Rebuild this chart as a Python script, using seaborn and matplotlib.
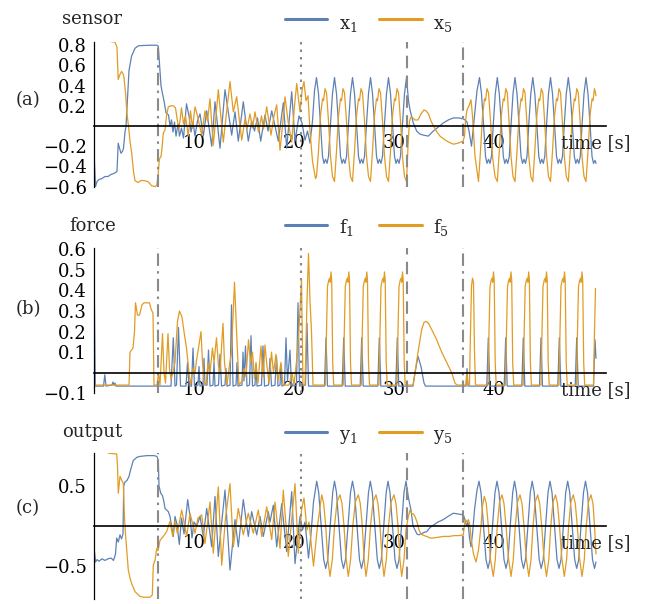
import numpy as np
import pandas as pd
import matplotlib
matplotlib.use("Agg")
import matplotlib.pyplot as plt
from matplotlib.lines import Line2D
from matplotlib.ticker import FixedLocator, MultipleLocator
import seaborn as sns

BLUE = "#5E81B5"
ORANGE = "#E19C24"

# ---------------- data (t [s], value) ----------------
x1_pts = [
    (0.0,-0.25),(0.15,-0.6),(0.3,-0.55),(0.5,-0.53),(0.8,-0.52),(1.1,-0.5),(1.4,-0.5),(1.7,-0.48),(2.0,-0.47),
    (2.3,-0.45),(2.42,-0.17),(2.55,-0.22),(2.7,-0.27),(2.85,-0.25),(2.95,-0.22),(3.1,-0.06),(3.2,0.0),(3.33,0.24),
    (3.5,0.55),(3.75,0.69),(4.1,0.77),(4.45,0.795),(5.5,0.8),(6.3,0.8),(6.43,0.79),(6.55,0.62),(6.7,0.4),(6.85,0.32),
    (7.0,0.25),(7.2,0.13),(7.45,0.11),(7.6,0.0),(7.75,0.06),(7.9,-0.06),(8.05,0.04),(8.2,-0.1),(8.4,0.02),(8.55,-0.1),
    (8.75,-0.02),(8.95,-0.12),(9.25,0.22),(9.5,0.1),(9.7,-0.06),(9.9,0.04),(10.1,-0.1),
    (10.35,0.05),(10.6,0.12),(10.93,-0.1),(11.27,0.15),(11.77,-0.2),(12.1,0.24),(12.6,-0.22),(13.1,0.36),(13.77,-0.09),
    (14.1,0.14),(14.43,-0.15),(14.93,0.24),(15.43,-0.15),(15.77,0.05),(16.05,-0.05),(16.35,0.08),(16.67,-0.15),
    (17.1,0.11),(17.4,-0.05),(17.77,0.15),(18.43,-0.15),(18.93,0.23),(19.27,-0.22),(19.77,0.34),(20.1,-0.15),
    (20.5,0.1),(20.8,0.03),(21.1,-0.14),(21.35,-0.05),(21.6,-0.17),(21.85,0.05),(22.05,0.35),(22.25,0.48),
    (22.45,0.32),(22.65,0.02),(22.85,-0.3),(23.0,-0.37),(23.15,-0.33),(23.3,-0.37),(23.45,-0.3),(23.65,0.02),(23.85,0.32),(24.05,0.48),
    (24.25,0.32),(24.45,0.02),(24.65,-0.3),(24.8,-0.37),(24.95,-0.33),(25.1,-0.37),(25.25,-0.3),(25.45,0.02),(25.65,0.32),(25.85,0.48),
    (26.05,0.32),(26.25,0.02),(26.45,-0.3),(26.6,-0.37),(26.75,-0.33),(26.9,-0.37),(27.05,-0.3),(27.25,0.02),(27.45,0.32),(27.65,0.48),
    (27.85,0.32),(28.05,0.02),(28.25,-0.3),(28.4,-0.37),(28.55,-0.33),(28.7,-0.37),(28.85,-0.3),(29.05,0.02),(29.25,0.32),(29.45,0.48),
    (29.65,0.32),(29.85,0.02),(30.05,-0.3),(30.2,-0.37),(30.35,-0.33),(30.5,-0.37),(30.65,-0.3),(30.85,0.02),(31.05,0.32),(31.25,0.48),
    (31.45,0.25),(31.6,0.16),(31.93,0.03),(32.27,-0.05),(32.6,-0.08),(32.93,-0.09),(33.43,-0.1),(33.93,-0.05),(34.43,-0.01),
    (34.93,0.03),(35.43,0.06),(35.93,0.08),(36.5,0.08),(36.93,0.07),(37.1,0.06),(37.3,0.04),(37.5,-0.05),(37.75,-0.2),
    (37.9,-0.05),(38.1,0.15),(38.3,0.35),(38.55,0.48),
    (38.75,0.32),(38.95,0.02),(39.15,-0.3),(39.3,-0.37),(39.45,-0.33),(39.6,-0.37),(39.75,-0.3),(39.93,0.02),(40.13,0.32),(40.33,0.48),
    (40.53,0.32),(40.73,0.02),(40.93,-0.3),(41.08,-0.37),(41.23,-0.33),(41.38,-0.37),(41.53,-0.3),(41.71,0.02),(41.9,0.32),(42.1,0.48),
    (42.3,0.32),(42.5,0.02),(42.7,-0.3),(42.85,-0.37),(43.0,-0.33),(43.15,-0.37),(43.3,-0.3),(43.48,0.02),(43.68,0.32),(43.88,0.48),
    (44.08,0.32),(44.28,0.02),(44.48,-0.3),(44.63,-0.37),(44.78,-0.33),(44.93,-0.37),(45.08,-0.3),(45.26,0.02),(45.45,0.32),(45.65,0.48),
    (45.85,0.32),(46.05,0.02),(46.25,-0.3),(46.4,-0.37),(46.55,-0.33),(46.7,-0.37),(46.85,-0.3),(47.03,0.02),(47.23,0.32),(47.43,0.48),
    (47.63,0.32),(47.83,0.02),(48.03,-0.3),(48.18,-0.37),(48.33,-0.33),(48.48,-0.37),(48.63,-0.3),(48.81,0.02),(49.0,0.32),(49.2,0.48),
    (49.4,0.32),(49.6,0.02),(49.8,-0.3),(49.95,-0.37),(50.1,-0.34),(50.2,-0.37),
]

x5_pts = [
    (0.0,1.0),(1.3,1.0),(1.45,0.84),(2.1,0.83),(2.3,0.78),(2.42,0.46),(2.55,0.5),(2.75,0.54),(2.9,0.52),(3.0,0.48),
    (3.15,0.33),(3.3,0.12),(3.45,0.0),(3.6,-0.15),(3.77,-0.27),(3.95,-0.45),(4.1,-0.54),(4.4,-0.56),(4.7,-0.54),
    (4.95,-0.54),(5.4,-0.55),(5.75,-0.59),(6.1,-0.6),(6.27,-0.59),(6.4,-0.5),(6.53,-0.33),(6.7,-0.3),(6.8,-0.22),
    (6.93,-0.07),(7.1,-0.04),(7.25,0.1),(7.43,0.19),(7.7,0.2),(7.93,0.2),(8.15,0.18),(8.33,0.06),(8.5,-0.03),
    (8.75,0.18),(8.95,0.02),(9.15,0.1),(9.43,-0.1),(9.65,0.15),(9.85,-0.02),(10.1,0.19),(10.35,0.1),(10.77,-0.09),
    (11.1,0.15),(11.35,0.05),(11.6,0.27),(11.93,-0.19),(12.2,0.1),(12.43,0.36),(12.93,-0.16),(13.27,0.15),(13.6,0.44),
    (13.93,0.14),(14.27,0.29),(14.77,-0.14),(15.1,0.07),(15.3,-0.03),(15.6,0.12),(15.85,-0.02),(16.1,0.14),(16.45,-0.06),
    (16.75,0.1),(16.95,-0.03),(17.27,0.19),(17.7,-0.09),(18.0,0.1),(18.27,0.21),(18.6,-0.24),(18.85,0.0),(19.1,0.29),
    (19.4,0.05),(19.77,-0.16),(20.05,0.2),(20.27,0.42),(20.6,0.14),(20.83,0.37),(21.0,0.44),(21.2,0.25),(21.4,0.3),
    (21.6,-0.05),(21.85,-0.35),(22.15,-0.52),(22.25,-0.5),
    (22.45,-0.25),(22.65,0.1),(22.85,0.27),(22.95,0.25),(23.1,0.37),(23.25,0.33),(23.45,0.05),(23.65,-0.3),(23.85,-0.5),(24.05,-0.55),
    (24.25,-0.25),(24.45,0.1),(24.65,0.27),(24.75,0.25),(24.9,0.37),(25.05,0.33),(25.25,0.05),(25.45,-0.3),(25.65,-0.5),(25.85,-0.55),
    (26.05,-0.25),(26.25,0.1),(26.45,0.27),(26.55,0.25),(26.7,0.37),(26.85,0.33),(27.05,0.05),(27.25,-0.3),(27.45,-0.5),(27.65,-0.55),
    (27.85,-0.25),(28.05,0.1),(28.25,0.27),(28.35,0.25),(28.5,0.37),(28.65,0.33),(28.85,0.05),(29.05,-0.3),(29.25,-0.5),(29.45,-0.55),
    (29.65,-0.25),(29.85,0.1),(30.05,0.27),(30.15,0.25),(30.3,0.37),(30.45,0.33),(30.65,0.05),(30.85,-0.3),(31.05,-0.5),(31.25,-0.55),
    (31.4,-0.2),(31.55,0.05),(31.7,0.09),(31.9,0.08),(32.1,0.06),(32.4,0.06),(32.7,0.12),(33.0,0.16),(33.2,0.15),
    (33.45,0.12),(33.7,0.05),(33.95,0.0),(34.3,-0.06),(34.6,-0.1),(35.0,-0.13),(35.3,-0.15),(35.7,-0.17),(35.95,-0.18),
    (36.4,-0.17),(36.9,-0.15),(37.05,-0.1),(37.15,0.05),(37.3,0.16),(37.5,0.2),(37.7,0.26),(37.85,0.1),(38.1,-0.3),(38.45,-0.55),
    (38.65,-0.25),(38.85,0.1),(39.05,0.27),(39.15,0.25),(39.3,0.37),(39.45,0.33),(39.65,0.05),(39.85,-0.3),(40.1,-0.5),(40.33,-0.55),
    (40.53,-0.25),(40.73,0.1),(40.93,0.27),(41.03,0.25),(41.18,0.37),(41.33,0.33),(41.5,0.05),(41.7,-0.3),(41.9,-0.5),(42.1,-0.55),
    (42.3,-0.25),(42.5,0.1),(42.7,0.27),(42.8,0.25),(42.95,0.37),(43.1,0.33),(43.28,0.05),(43.48,-0.3),(43.68,-0.5),(43.88,-0.55),
    (44.08,-0.25),(44.28,0.1),(44.48,0.27),(44.58,0.25),(44.73,0.37),(44.88,0.33),(45.06,0.05),(45.26,-0.3),(45.45,-0.5),(45.65,-0.55),
    (45.85,-0.25),(46.05,0.1),(46.25,0.27),(46.35,0.25),(46.5,0.37),(46.65,0.33),(46.83,0.05),(47.03,-0.3),(47.23,-0.5),(47.43,-0.55),
    (47.63,-0.25),(47.83,0.1),(48.03,0.27),(48.13,0.25),(48.28,0.37),(48.43,0.33),(48.61,0.05),(48.8,-0.3),(49.0,-0.5),(49.2,-0.55),
    (49.4,-0.25),(49.6,0.1),(49.8,0.27),(49.9,0.25),(50.05,0.37),(50.2,0.3),
]

f1_pts = [
    (0.0,0.52),(0.05,0.3),(0.12,-0.065),(0.95,-0.065),(1.08,-0.01),(1.2,-0.065),(1.8,-0.06),(1.9,-0.045),(2.0,-0.06),
    (2.1,-0.05),(2.2,-0.065),(7.7,-0.065),(7.93,0.17),(8.1,-0.065),(8.25,-0.06),(8.45,0.22),(8.65,-0.065),(9.2,-0.065),
    (9.35,0.05),(9.5,-0.065),(9.75,-0.065),(9.9,0.12),(10.05,-0.065),(10.4,-0.06),(10.5,0.03),(10.6,-0.065),(10.9,-0.06),
    (11.0,0.07),(11.1,-0.06),(11.3,-0.06),(11.45,0.11),(11.6,-0.065),(11.9,-0.06),(12.0,0.05),(12.1,-0.065),(12.45,-0.06),
    (12.6,0.09),(12.75,-0.065),(13.1,-0.06),(13.2,0.02),(13.3,-0.065),(13.6,-0.06),(13.75,0.33),(13.9,-0.065),(14.2,-0.06),
    (14.3,0.05),(14.4,-0.065),(14.8,-0.06),(14.9,0.1),(15.0,-0.04),(15.15,0.13),(15.3,-0.065),(15.55,-0.06),(15.7,0.18),
    (15.85,-0.065),(16.1,-0.06),(16.2,0.04),(16.3,-0.065),(16.75,-0.06),(16.9,0.13),(17.05,-0.065),(17.45,-0.06),(17.6,0.07),
    (17.75,-0.065),(18.1,-0.06),(18.25,0.08),(18.4,-0.065),(18.6,-0.06),(18.7,0.04),(18.8,-0.065),(19.05,-0.06),(19.2,0.17),
    (19.35,-0.04),(19.6,0.11),(19.75,-0.065),(20.25,-0.06),(20.4,0.34),(20.55,-0.065),(21.15,-0.06),(21.3,0.24),(21.45,-0.065),
    (23.05,-0.065),(23.2,0.17),(23.35,-0.065),(24.82,-0.065),(24.97,0.17),(25.12,-0.065),(26.62,-0.065),(26.77,0.17),
    (26.92,-0.065),(28.38,-0.065),(28.53,0.17),(28.68,-0.065),(30.18,-0.065),(30.33,0.17),(30.48,-0.065),
    (31.9,-0.065),(32.1,0.0),(32.4,0.08),(32.7,0.03),(33.0,-0.05),(33.15,-0.065),(37.2,-0.065),(37.3,0.02),(37.4,-0.065),
    (39.28,-0.065),(39.43,0.17),(39.58,-0.065),(41.02,-0.065),(41.17,0.17),(41.32,-0.065),(42.78,-0.065),(42.93,0.17),
    (43.08,-0.065),(44.55,-0.065),(44.7,0.17),(44.85,-0.065),(46.38,-0.065),(46.53,0.17),(46.68,-0.065),(48.12,-0.065),
    (48.27,0.17),(48.42,-0.065),(49.95,-0.065),(50.1,0.16),(50.2,0.07),
]

f5_pts = [
    (0.0,-0.06),(3.5,-0.06),(3.6,0.1),(3.9,0.12),(4.05,0.2),(4.15,0.34),(4.35,0.28),(4.55,0.28),(4.8,0.33),(5.0,0.34),
    (5.55,0.34),(5.7,0.31),(5.9,0.29),(6.0,-0.06),(6.3,-0.06),(6.45,0.0),(6.6,-0.06),(6.85,0.19),(7.0,0.0),(7.15,-0.05),
    (7.4,0.19),(7.55,0.02),(7.7,-0.03),(7.9,0.0),(8.1,0.05),(8.35,0.25),(8.55,0.3),(8.8,0.27),(9.0,0.2),(9.25,0.12),
    (9.5,0.0),(9.65,-0.06),(9.9,0.02),(10.1,0.0),(10.25,0.06),(10.45,0.12),(10.7,0.2),(10.85,0.05),(11.0,-0.04),(11.2,-0.06),
    (11.4,0.05),(11.6,0.0),(11.85,0.12),(12.0,0.05),(12.25,0.17),(12.45,0.03),(12.6,0.0),(12.9,0.24),(13.05,0.05),(13.3,-0.06),
    (13.5,0.02),(13.75,0.1),(14.05,0.44),(14.3,0.15),(14.5,-0.06),(14.8,-0.04),(15.0,0.02),(15.2,-0.02),(15.45,0.16),
    (15.65,0.05),(15.85,0.1),(16.05,-0.03),(16.2,0.05),(16.4,-0.05),(16.7,0.13),(16.9,-0.02),(17.1,0.135),(17.3,0.03),
    (17.5,-0.05),(17.75,0.1),(17.95,0.0),(18.2,0.09),(18.4,-0.04),(18.7,0.05),(18.9,-0.06),(19.5,-0.06),(19.8,0.0),
    (20.0,-0.06),(20.35,0.1),(20.55,0.26),(20.75,0.45),(20.9,-0.06),(21.1,-0.06),(21.3,0.35),(21.45,0.58),(21.6,0.35),
    (21.75,0.2),(21.9,-0.06),
    (23.15,-0.06),(23.25,0.2),(23.35,0.42),(23.47,0.45),(23.57,0.46),(23.62,0.44),(23.7,0.49),(23.77,0.45),(23.87,0.05),(23.97,-0.06),
    (24.93,-0.06),(25.03,0.2),(25.13,0.42),(25.25,0.45),(25.35,0.46),(25.4,0.44),(25.48,0.49),(25.55,0.45),(25.65,0.05),(25.75,-0.06),
    (26.73,-0.06),(26.83,0.2),(26.93,0.42),(27.05,0.45),(27.15,0.46),(27.2,0.44),(27.28,0.49),(27.35,0.45),(27.45,0.05),(27.55,-0.06),
    (28.5,-0.06),(28.6,0.2),(28.7,0.42),(28.82,0.45),(28.92,0.46),(28.97,0.44),(29.05,0.49),(29.12,0.45),(29.22,0.05),(29.32,-0.06),
    (30.3,-0.06),(30.4,0.2),(30.5,0.42),(30.62,0.45),(30.72,0.46),(30.77,0.44),(30.85,0.49),(30.92,0.45),(31.02,0.05),(31.12,-0.06),
    (31.9,-0.06),(32.1,0.0),(32.4,0.1),(32.77,0.21),(33.0,0.245),(33.2,0.25),(33.45,0.24),(33.77,0.21),(34.27,0.16),
    (34.77,0.1),(35.27,0.05),(35.77,0.0),(36.1,-0.05),(36.3,-0.06),(37.2,-0.06),(37.3,0.0),(37.4,-0.06),
    (37.55,-0.06),(37.65,0.2),(37.75,0.42),(37.85,0.46),(37.95,0.44),(38.05,0.1),(38.15,-0.06),
    (39.4,-0.06),(39.5,0.2),(39.6,0.42),(39.72,0.45),(39.82,0.46),(39.87,0.44),(39.95,0.49),(40.02,0.45),(40.12,0.05),(40.22,-0.06),
    (41.15,-0.06),(41.25,0.2),(41.35,0.42),(41.47,0.45),(41.57,0.46),(41.62,0.44),(41.7,0.49),(41.77,0.45),(41.87,0.05),(41.97,-0.06),
    (42.92,-0.06),(43.02,0.2),(43.12,0.42),(43.24,0.45),(43.34,0.46),(43.39,0.44),(43.47,0.49),(43.54,0.45),(43.64,0.05),(43.74,-0.06),
    (44.7,-0.06),(44.8,0.2),(44.9,0.42),(45.02,0.45),(45.12,0.46),(45.17,0.44),(45.25,0.49),(45.32,0.45),(45.42,0.05),(45.52,-0.06),
    (46.5,-0.06),(46.6,0.2),(46.7,0.42),(46.82,0.45),(46.92,0.46),(46.97,0.44),(47.05,0.49),(47.12,0.45),(47.22,0.05),(47.32,-0.06),
    (48.25,-0.06),(48.35,0.2),(48.45,0.42),(48.57,0.45),(48.67,0.46),(48.72,0.44),(48.8,0.49),(48.87,0.45),(48.97,0.05),(49.07,-0.06),
    (49.95,-0.06),(50.05,0.2),(50.15,0.41),
]

y1_pts = [
    (0.0,-0.8),(0.05,-0.33),(0.15,-0.45),(0.3,-0.42),(0.5,-0.44),(0.8,-0.41),(1.1,-0.43),(1.4,-0.41),(1.7,-0.4),
    (1.95,-0.43),(2.15,-0.35),(2.27,-0.15),(2.43,-0.2),(2.6,-0.11),(2.75,-0.16),(2.9,-0.1),(2.97,0.5),(3.1,0.55),
    (3.3,0.57),(3.5,0.62),(3.7,0.72),(3.93,0.82),(4.3,0.86),(4.6,0.87),(5.3,0.88),(6.0,0.88),(6.3,0.87),(6.43,0.82),
    (6.5,0.5),(6.67,0.41),(6.85,0.38),(7.0,0.3),(7.1,0.22),(7.43,0.18),(7.6,0.12),(7.77,-0.01),(7.93,-0.13),(8.1,0.12),
    (8.3,0.02),(8.53,-0.23),(8.75,0.1),(9.0,-0.1),(9.37,0.33),(9.6,0.12),(9.8,-0.15),(10.0,0.05),(10.27,0.0),(10.6,0.12),
    (10.93,-0.13),(11.27,0.22),(11.77,-0.26),(12.1,0.37),(12.43,-0.38),(13.1,0.45),(13.6,-0.55),(14.1,0.08),(14.43,-0.26),
    (14.93,0.33),(15.43,-0.13),(15.77,0.18),(16.27,-0.11),(16.6,0.12),(16.93,-0.13),(17.43,0.18),(17.6,0.05),(17.93,0.26),
    (18.27,-0.26),(18.77,0.28),(19.27,-0.32),(19.77,0.43),(20.1,-0.47),(20.6,0.12),(20.85,-0.05),(21.1,0.05),(21.45,-0.4),
    (21.7,-0.1),(21.95,0.3),(22.27,0.56),
    (22.47,0.42),(22.72,0.0),(22.97,-0.42),(23.17,-0.53),(23.37,-0.42),(23.62,0.0),(23.87,0.42),(24.05,0.56),
    (24.25,0.42),(24.5,0.0),(24.75,-0.42),(24.95,-0.53),(25.15,-0.42),(25.4,0.0),(25.65,0.42),(25.85,0.56),
    (26.05,0.42),(26.3,0.0),(26.55,-0.42),(26.75,-0.53),(26.95,-0.42),(27.2,0.0),(27.45,0.42),(27.63,0.56),
    (27.83,0.42),(28.08,0.0),(28.33,-0.42),(28.53,-0.53),(28.73,-0.42),(28.98,0.0),(29.22,0.42),(29.4,0.56),
    (29.6,0.42),(29.85,0.0),(30.1,-0.42),(30.3,-0.53),(30.5,-0.42),(30.75,0.0),(31.0,0.42),(31.2,0.56),
    (31.45,0.35),(31.7,0.2),(31.9,0.0),(32.1,-0.05),(32.3,-0.1),(32.45,-0.11),(32.7,-0.1),(33.0,-0.08),(33.27,-0.07),
    (33.6,-0.02),(33.93,0.01),(34.4,0.05),(34.93,0.08),(35.4,0.12),(35.93,0.16),(36.4,0.15),(36.93,0.14),(37.05,0.1),
    (37.15,0.05),(37.27,0.0),(37.4,0.05),(37.55,-0.15),(37.7,-0.26),(37.85,-0.1),(38.05,0.2),(38.3,0.45),(38.5,0.56),
    (38.7,0.42),(38.95,0.0),(39.2,-0.42),(39.4,-0.53),(39.6,-0.42),(39.85,0.0),(40.1,0.42),(40.3,0.56),
    (40.5,0.42),(40.75,0.0),(41.0,-0.42),(41.2,-0.53),(41.4,-0.42),(41.62,0.0),(41.87,0.42),(42.05,0.56),
    (42.25,0.42),(42.5,0.0),(42.75,-0.42),(42.95,-0.53),(43.15,-0.42),(43.39,0.0),(43.63,0.42),(43.82,0.56),
    (44.02,0.42),(44.27,0.0),(44.52,-0.42),(44.72,-0.53),(44.92,-0.42),(45.16,0.0),(45.4,0.42),(45.6,0.56),
    (45.8,0.42),(46.05,0.0),(46.3,-0.42),(46.5,-0.53),(46.7,-0.42),(46.93,0.0),(47.17,0.42),(47.37,0.56),
    (47.57,0.42),(47.82,0.0),(48.07,-0.42),(48.27,-0.53),(48.47,-0.42),(48.7,0.0),(48.95,0.42),(49.15,0.56),
    (49.35,0.42),(49.6,0.0),(49.85,-0.42),(50.05,-0.53),(50.2,-0.45),
]

y5_pts = [
    (0.0,1.1),(1.3,1.1),(1.45,0.91),(2.27,0.9),(2.35,0.75),(2.43,0.41),(2.6,0.62),(2.75,0.58),(2.93,0.53),(3.05,0.1),
    (3.15,-0.1),(3.27,-0.3),(3.43,-0.55),(3.6,-0.65),(3.77,-0.72),(4.1,-0.82),(4.6,-0.88),(5.0,-0.89),(5.6,-0.89),
    (5.83,-0.86),(5.93,-0.49),(6.1,-0.43),(6.27,-0.28),(6.4,-0.31),(6.6,-0.18),(6.93,-0.13),(7.27,-0.07),(7.6,0.06),
    (7.87,-0.13),(8.1,0.06),(8.33,-0.09),(8.77,0.2),(9.27,-0.13),(9.6,0.16),(10.1,-0.09),(10.4,0.1),(10.77,0.14),
    (11.1,-0.22),(11.6,0.3),(11.93,-0.34),(12.43,0.49),(12.77,-0.49),(13.15,0.1),(13.6,0.53),(13.93,-0.26),(14.43,0.22),
    (14.93,-0.11),(15.43,0.16),(15.93,-0.09),(16.43,0.2),(16.77,-0.13),(17.27,0.24),(17.77,-0.17),(18.1,0.3),(18.6,-0.28),
    (18.93,0.45),(19.43,-0.38),(20.1,0.53),(20.43,-0.34),(20.75,0.2),(21.0,0.35),(21.3,-0.05),(21.5,0.05),(21.95,-0.5),
    (22.35,0.0),(22.77,0.39),
    (22.97,0.28),(23.17,0.0),(23.37,-0.4),(23.6,-0.63),(23.83,-0.42),(24.05,0.0),(24.3,0.3),(24.6,0.39),
    (24.8,0.28),(25.0,0.0),(25.2,-0.4),(25.43,-0.63),(25.66,-0.42),(25.88,0.0),(26.13,0.3),(26.43,0.39),
    (26.63,0.28),(26.83,0.0),(27.0,-0.4),(27.2,-0.63),(27.43,-0.42),(27.65,0.0),(27.9,0.3),(28.2,0.39),
    (28.4,0.28),(28.6,0.0),(28.8,-0.4),(29.0,-0.63),(29.23,-0.42),(29.45,0.0),(29.7,0.3),(30.0,0.39),
    (30.2,0.28),(30.4,0.0),(30.58,-0.4),(30.77,-0.63),(31.0,-0.42),(31.2,-0.05),(31.4,0.1),(31.6,0.2),(31.75,0.16),
    (31.95,0.15),(32.1,0.12),(32.3,0.05),(32.5,-0.05),(32.7,-0.1),(33.0,-0.12),(33.27,-0.13),(33.6,-0.15),(33.93,-0.15),
    (34.4,-0.14),(34.93,-0.13),(35.5,-0.13),(36.0,-0.12),(36.5,-0.12),(36.93,-0.11),(37.05,0.02),(37.15,0.08),(37.3,0.05),
    (37.45,0.08),(37.6,0.0),(37.7,-0.15),(37.95,-0.35),(38.2,-0.45),(38.45,-0.3),(38.7,0.0),(38.85,0.25),(39.03,0.37),
    (39.23,0.28),(39.43,0.0),(39.63,-0.4),(39.93,-0.63),(40.13,-0.42),(40.33,0.0),(40.55,0.3),(40.8,0.39),
    (41.0,0.28),(41.2,0.0),(41.45,-0.4),(41.7,-0.63),(41.93,-0.42),(42.13,0.0),(42.35,0.3),(42.6,0.39),
    (42.8,0.28),(43.0,0.0),(43.22,-0.4),(43.48,-0.63),(43.7,-0.42),(43.9,0.0),(44.12,0.3),(44.37,0.39),
    (44.57,0.28),(44.77,0.0),(45.0,-0.4),(45.25,-0.63),(45.48,-0.42),(45.68,0.0),(45.9,0.3),(46.15,0.39),
    (46.35,0.28),(46.55,0.0),(46.78,-0.4),(47.03,-0.63),(47.26,-0.42),(47.46,0.0),(47.68,0.3),(47.93,0.39),
    (48.13,0.28),(48.33,0.0),(48.55,-0.4),(48.8,-0.63),(49.03,-0.42),(49.23,0.0),(49.45,0.3),(49.7,0.39),
    (49.9,0.28),(50.05,0.0),(50.2,-0.35),
]

event_times = [6.4, 20.7, 31.3, 36.9]
event_styles = [(0, (6, 2.5, 1.2, 2.5)), (0, (1.2, 2.4)), (0, (6, 3.5)), (0, (6, 2.5, 1.2, 2.5))]

panel_titles = ["sensor", "force", "output"]
panel_tags = ["(a)", "(b)", "(c)"]
legend_labels = [(r"$\mathrm{x}_1$", r"$\mathrm{x}_5$"),
                 (r"$\mathrm{f}_1$", r"$\mathrm{f}_5$"),
                 (r"$\mathrm{y}_1$", r"$\mathrm{y}_5$")]
x_major = [10, 20, 30, 40]
y_major = [[-0.6, -0.4, -0.2, 0.2, 0.4, 0.6, 0.8],
           [-0.1, 0.1, 0.2, 0.3, 0.4, 0.5, 0.6],
           [-0.5, 0.5]]
y_minor_step = [0.1, 0.02, 0.1]
ylims = [(-0.607, 0.835), (-0.1, 0.605), (-0.916, 0.909)]
x_minor = [1, 2, 3, 4, 5, 6, 7, 8, 9, 11, 12, 13, 14, 15, 16, 17, 18, 19, 21,
           22.3, 24.0, 25.7, 27.4, 29.1, 30.8, 32.4, 34.1, 35.8, 37.4, 39.1, 40.8,
           42.4, 44.1, 45.8, 47.4, 49.1, 50.2]

# ---------------- styling ----------------
sns.set_style("white")
plt.rcParams["font.family"] = ["DejaVu Serif"]
plt.rcParams["mathtext.fontset"] = "dejavuserif"
plt.rcParams["axes.unicode_minus"] = True

W, H = 646, 604
fig = plt.figure(figsize=(W / 100, H / 100), dpi=100)
fig.patch.set_facecolor("white")

panel_px = [(41.7, 187.3), (248.3, 393.3), (453.3, 599.3)]
X0, X1 = 94, 606
title_base = [24, 231, 436.7]
tag_center = [100.5, 309, 508.5]
leg_line_y = [19.3, 225, 431.7]
leg_text_base = [28.5, 233.5, 440]

series = [(x1_pts, x5_pts), (f1_pts, f5_pts), (y1_pts, y5_pts)]
FS = 13

def draw(ax, pts, color):
    t, v = zip(*pts)
    df = pd.DataFrame({"t": t, "v": v})
    sns.lineplot(data=df, x="t", y="v", ax=ax, color=color, lw=0.9,
                 sort=False, estimator=None)

for i in range(3):
    top, bot = panel_px[i]
    ax = fig.add_axes([X0 / W, 1 - bot / H, (X1 - X0) / W, (bot - top) / H])
    ax.set_facecolor("none")
    blue_pts, orange_pts = series[i]
    draw(ax, blue_pts, BLUE)
    draw(ax, orange_pts, ORANGE)
    ax.set_xlim(0, 51.2)
    ax.set_ylim(*ylims[i])
    ax.set_xlabel("")
    ax.set_ylabel("")
    for t, ls in zip(event_times, event_styles):
        ax.axvline(t, color="#8a8a8a", lw=1.5, ls=ls, zorder=4)
    for s in ["top", "right"]:
        ax.spines[s].set_visible(False)
    ax.spines["bottom"].set_position(("data", 0))
    ax.spines["bottom"].set_color("black")
    ax.spines["bottom"].set_linewidth(1.2)
    ax.spines["bottom"].set_zorder(5)
    ax.spines["left"].set_color("black")
    ax.spines["left"].set_linewidth(0.9)
    ax.set_xticks(x_major)
    ax.set_xticklabels([str(v) for v in x_major])
    ax.xaxis.set_minor_locator(FixedLocator(x_minor))
    ax.set_yticks(y_major[i])
    ax.set_yticklabels([("%g" % v).replace("-", "\u2212") for v in y_major[i]])
    ax.yaxis.set_minor_locator(MultipleLocator(y_minor_step[i]))
    ax.tick_params(axis="both", which="both", direction="in", color="black",
                   labelsize=FS, labelcolor="black")
    ax.tick_params(axis="x", which="major", length=5, width=0.9, pad=6)
    ax.tick_params(axis="x", which="minor", length=3, width=0.8)
    ax.tick_params(axis="y", which="major", length=5, width=0.9, pad=5)
    ax.tick_params(axis="y", which="minor", length=2.5, width=0.7)
    ax.grid(False)
    ax.annotate("time [s]", xy=(50.2, 0), xycoords="data", xytext=(0, -8.5),
                textcoords="offset pixels", ha="center", va="top", fontsize=FS)

    # panel title and tag
    fig.text(92.5 / W, 1 - title_base[i] / H, panel_titles[i], ha="center",
             va="baseline", fontsize=FS)
    fig.text(28 / W, 1 - tag_center[i] / H, panel_tags[i], ha="center",
             va="center", fontsize=FS)
    # legend
    ly = 1 - leg_line_y[i] / H
    fig.add_artist(Line2D([285 / W, 327 / W], [ly, ly], color=BLUE, lw=2.2))
    fig.add_artist(Line2D([379 / W, 422 / W], [ly, ly], color=ORANGE, lw=2.2))
    tb = 1 - leg_text_base[i] / H
    fig.text(339 / W, tb, legend_labels[i][0], ha="left", va="baseline", fontsize=FS)
    fig.text(433 / W, tb, legend_labels[i][1], ha="left", va="baseline", fontsize=FS)

fig.savefig("out.png", dpi=100, facecolor="white")
